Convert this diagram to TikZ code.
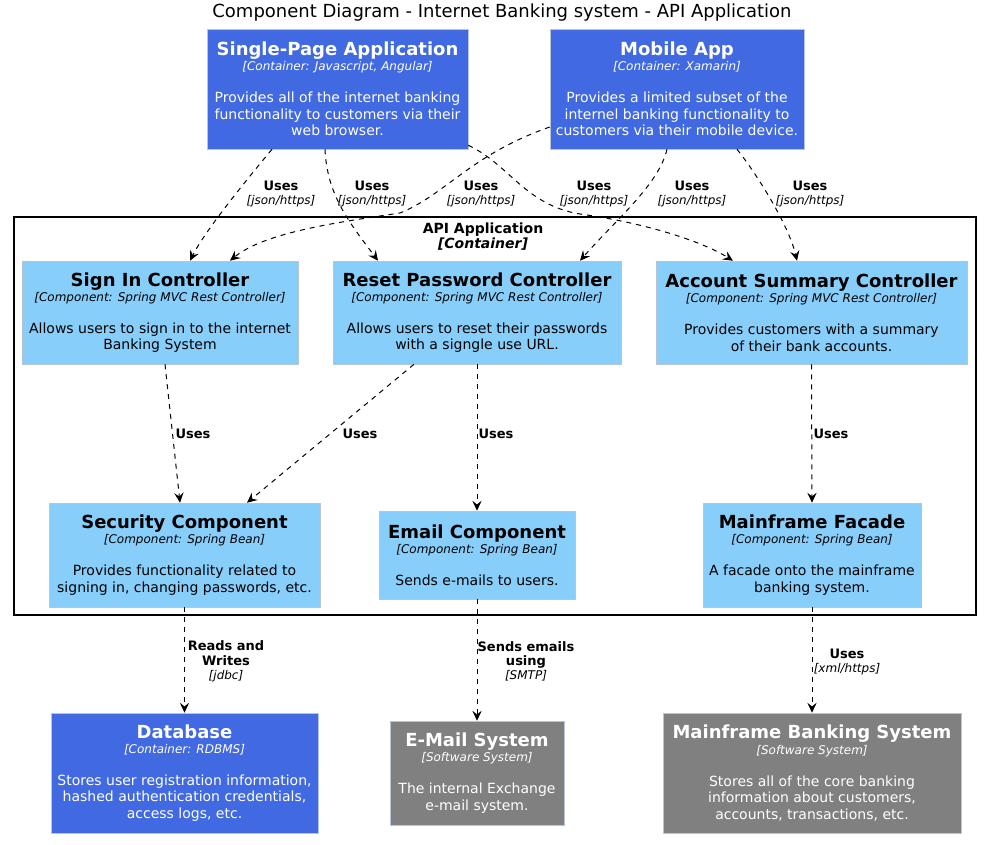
\documentclass[tikz,border=0pt]{standalone}
\usepackage{fontspec}
\setmainfont{DejaVu Sans}
\usetikzlibrary{arrows.meta,calc}

\definecolor{contblue}{HTML}{4169E1}
\definecolor{compblue}{HTML}{87CEFA}
\definecolor{extgray}{HTML}{808080}
\definecolor{edgegray}{HTML}{B8C4D8}

\newcommand{\ttl}{\fontsize{13.5}{15}\selectfont\bfseries}
\newcommand{\stp}{\fontsize{9}{11}\selectfont\itshape}
\newcommand{\dsc}{\fontsize{10.5}{12.4}\selectfont}
\newcommand{\relb}{\fontsize{9.75}{10.5}\selectfont\bfseries}
\newcommand{\reli}{\fontsize{9}{10.5}\selectfont\itshape}
\newcommand{\elem}[3]{{\ttl #1}\\[-1.1pt]{\stp [#2]}\\[11.6pt]#3}

\begin{document}
\begin{tikzpicture}[x=0.75pt,y=-0.75pt,
    every node/.style={inner sep=0pt, align=center},
    boxsize/.style args={#1x#2}{minimum width=#1*0.75pt, minimum height=#2*0.75pt},
    container/.style={draw=edgegray, fill=contblue, text=white, font=\dsc},
    component/.style={draw=edgegray, fill=compblue, text=black, font=\dsc},
    extsys/.style={draw=edgegray, fill=extgray, text=white, font=\dsc},
    rel/.style={draw, line width=0.75pt, dash pattern=on 3.75pt off 3.75pt,
        -{Stealth[length=7.5pt,width=7pt,inset=2.8pt]}},
    lbl/.style={}]
    \useasboundingbox (0,0) rectangle (986,844);

    % Title
    \node[font=\fontsize{13.5}{15}\selectfont] (title) at (502,12.5)
        {Component Diagram - Internet Banking system - API Application};

    % Containers on top
    \node[container, boxsize=261x120] (spa) at (337.5,89)
        {\elem{Single-Page Application}{Container: Javascript, Angular}
        {Provides all of the internet banking\\functionality to customers via their\\web browser.}};
    \node[container, boxsize=254x120] (mob) at (677,89)
        {\elem{Mobile App}{Container: Xamarin}
        {Provides a limited subset of the\\internel banking functionality to\\customers via their mobile device.}};

    % API Application boundary
    \draw[line width=1.3pt] (14,217) rectangle (976,615);
    \node[font=\fontsize{10.5}{11.5}\selectfont\bfseries] (api) at (483,236.5)
        {API Application\\{\itshape [Container]}};

    % Controllers
    \node[component, boxsize=276x103] (signin) at (160,312.5)
        {\elem{Sign In Controller}{Component: Spring MVC Rest Controller}
        {Allows users to sign in to the internet\\Banking System}};
    \node[component, boxsize=288x103] (reset) at (477,312.5)
        {\elem{Reset Password Controller}{Component: Spring MVC Rest Controller}
        {Allows users to reset their passwords\\with a signgle use URL.}};
    \node[component, boxsize=311x103] (acct) at (811.5,312.5)
        {\elem{Account Summary Controller}{Component: Spring MVC Rest Controller}
        {Provides customers with a summary\\of their bank accounts.}};

    % Beans
    \node[component, boxsize=271x104] (sec) at (184.5,555)
        {\elem{Security Component}{Component: Spring Bean}
        {Provides functionality related to\\signing in, changing passwords, etc.}};
    \node[component, boxsize=196x88] (emailc) at (477,555)
        {\elem{Email Component}{Component: Spring Bean}
        {Sends e-mails to users.}};
    \node[component, boxsize=218x104] (mff) at (812,555)
        {\elem{Mainframe Facade}{Component: Spring Bean}
        {A facade onto the mainframe\\banking system.}};

    % External
    \node[container, boxsize=267x120] (db) at (184.5,773)
        {\elem{Database}{Container: RDBMS}
        {Stores user registration information,\\hashed authentication credentials,\\access logs, etc.}};
    \node[extsys, boxsize=174x104] (mail) at (477,773)
        {\elem{E-Mail System}{Software System}
        {The internal Exchange\\e-mail system.}};
    \node[extsys, boxsize=298x120] (mbs) at (812,773)
        {\elem{Mainframe Banking System}{Software System}
        {Stores all of the core banking\\information about customers,\\accounts, transactions, etc.}};

    % Uses (json/https) from the front ends
    \draw[rel] ($(spa.south)+(-65.5,0)$) .. controls +(-25,30) and +(15,-30) .. ($(signin.north)+(30,0)$);
    \draw[rel] ($(spa.south)+(-12.5,0)$) .. controls +(2,45) and +(-30,-40) .. ($(reset.north)+(-99,0)$);
    \draw[rel] ($(mob.west)+(0,38)$) .. controls (470,155) and (445,195) .. (400,213)
        .. controls (340,222) and (265,232) .. ($(signin.north)+(70,0)$);
    \draw[rel] ($(spa.south east)+(0,-4)$) .. controls (510,165) and (525,205) .. (580,214)
        .. controls (640,222) and (700,240) .. ($(acct.north)+(-78.5,0)$);
    \draw[rel] ($(mob.south)+(-10,0)$) .. controls +(-8,35) and +(35,-40) .. ($(reset.north)+(103,0)$);
    \draw[rel] ($(mob.south)+(60,0)$) .. controls +(20,25) and +(-8,-35) .. ($(acct.north)+(-14.5,0)$);
    \node[lbl] (u1) at (281,194.5) {{\relb Uses}\\[-1.5pt]{\reli [json/https]}};
    \node[lbl] (u2) at (372,194.5) {{\relb Uses}\\[-1.5pt]{\reli [json/https]}};
    \node[lbl] (u3) at (481,194.5) {{\relb Uses}\\[-1.5pt]{\reli [json/https]}};
    \node[lbl] (u4) at (594,194.5) {{\relb Uses}\\[-1.5pt]{\reli [json/https]}};
    \node[lbl] (u5) at (692,194.5) {{\relb Uses}\\[-1.5pt]{\reli [json/https]}};
    \node[lbl] (u6) at (810,194.5) {{\relb Uses}\\[-1.5pt]{\reli [json/https]}};

    % Inside the API application
    \draw[rel] ($(signin.south)+(5,0)$) -- ($(sec.north)+(-4.5,0)$);
    \draw[rel] ($(reset.south)+(-63,0)$) -- ($(sec.north)+(62.5,0)$);
    \draw[rel] (reset.south) -- (emailc.north);
    \draw[rel] (acct.south) -- (mff.north);
    \node[lbl] (u7) at (193,434) {\relb Uses};
    \node[lbl] (u8) at (360,434) {\relb Uses};
    \node[lbl] (u9) at (496,434) {\relb Uses};
    \node[lbl] (u10) at (831,434) {\relb Uses};

    % Out to the other systems
    \draw[rel] (sec.south) -- (db.north);
    \draw[rel] (emailc.south) -- (mail.north);
    \draw[rel] (mff.south) -- (mbs.north);
    \node[lbl] (rw) at (226,661.5) {{\relb Reads and}\\[-1pt]{\relb Writes}\\[-1.5pt]{\reli [jdbc]}};
    \node[lbl] (se) at (526,661.5) {{\relb Sends emails}\\[-1pt]{\relb using}\\[-1.5pt]{\reli [SMTP]}};
    \node[lbl] (ux) at (847,661.5) {{\relb Uses}\\[-1.5pt]{\reli [xml/https]}};
\end{tikzpicture}
\end{document}
